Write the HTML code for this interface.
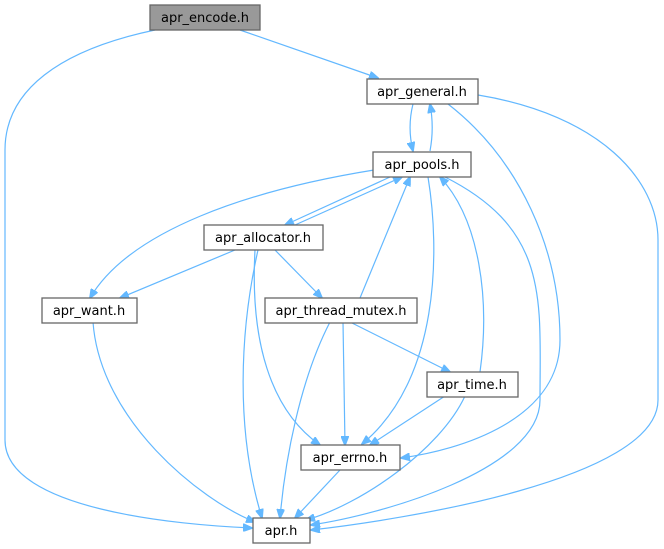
<!DOCTYPE html>
<html><head><meta charset="utf-8"><style>
html,body{margin:0;padding:0;background:#fff;}
svg{display:block;}
text{font-family:"DejaVu Sans","Liberation Sans",sans-serif;font-size:13px;fill:#000;text-anchor:middle;}
.n{fill:#fff;stroke:#666;stroke-width:1.3;}
.e{fill:none;stroke:#63b8ff;stroke-width:1.2;}
</style></head><body>
<svg width="664" height="549" viewBox="0 0 664 549">
<defs><marker id="a" markerWidth="10" markerHeight="8" refX="9" refY="4" orient="auto" markerUnits="userSpaceOnUse"><path d="M0,0 L10,4 L0,8 z" fill="#63b8ff" stroke="#63b8ff"/></marker></defs>
<g marker-end="url(#a)">
<path class="e" d="M240,30 L378,78"/>
<path class="e" d="M155,30 C60,50 5,90 5,150 L5,440 C5,510 180,525 252,528"/>
<path class="e" d="M413,104 C409,120 409,135 413,151"/>
<path class="e" d="M430,151 C433,135 433,120 430,104"/>
<path class="e" d="M448,104 C520,160 560,250 560,340 C560,420 460,450 401,458"/>
<path class="e" d="M478,95 C600,115 658,180 658,240 L658,400 C658,480 400,520 311,530"/>
<path class="e" d="M390,177 L285,225"/>
<path class="e" d="M295,225 L402,177"/>
<path class="e" d="M374,170 C250,190 130,230 90,298"/>
<path class="e" d="M360,298 L410,177"/>
<path class="e" d="M428,177 C440,250 440,380 362,444"/>
<path class="e" d="M445,177 C550,230 540,300 540,400 C540,470 380,515 311,525"/>
<path class="e" d="M480,372 C490,300 480,220 440,177"/>
<path class="e" d="M235,250 L120,298"/>
<path class="e" d="M275,250 L322,298"/>
<path class="e" d="M255,250 C250,340 270,410 320,445"/>
<path class="e" d="M258,250 C240,330 235,430 262,518"/>
<path class="e" d="M93,322 C100,420 200,500 255,522"/>
<path class="e" d="M350,322 L450,372"/>
<path class="e" d="M343,322 L345,445"/>
<path class="e" d="M330,322 C300,380 285,460 280,518"/>
<path class="e" d="M445,396 L370,445"/>
<path class="e" d="M465,396 C440,450 360,505 306,520"/>
<path class="e" d="M340,470 L295,518"/>
</g>
<rect x="150" y="5" width="110" height="25" fill="#999" stroke="#666" stroke-width="1.3"/><text x="205" y="22">apr_encode.h</text>
<rect class="n" x="367" y="79" width="111" height="25"/><text x="422" y="96">apr_general.h</text>
<rect class="n" x="373" y="152" width="98" height="25"/><text x="422" y="169">apr_pools.h</text>
<rect class="n" x="204" y="225" width="119" height="25"/><text x="263" y="242">apr_allocator.h</text>
<rect class="n" x="42" y="298" width="95" height="25"/><text x="89" y="315">apr_want.h</text>
<rect class="n" x="265" y="298" width="152" height="25"/><text x="341" y="315">apr_thread_mutex.h</text>
<rect class="n" x="427" y="372" width="91" height="25"/><text x="472" y="389">apr_time.h</text>
<rect class="n" x="301" y="445" width="99" height="25"/><text x="350" y="462">apr_errno.h</text>
<rect class="n" x="253" y="518" width="57" height="25"/><text x="281" y="535">apr.h</text>
</svg>
</body></html>
